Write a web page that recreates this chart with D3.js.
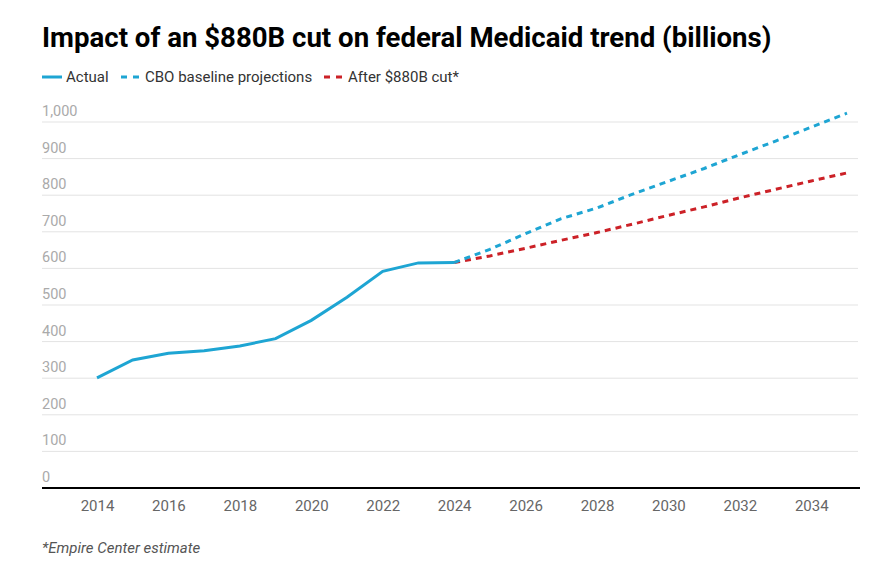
<!DOCTYPE html>
<html>
<head>
<meta charset="utf-8">
<script src="https://cdn.jsdelivr.net/npm/d3@7"></script>
<style>
  body { margin: 0; background: #fff; }
  svg { font-family: Roboto, sans-serif; }
</style>
</head>
<body>
<svg id="chart" width="882" height="562"></svg>
<script>

var actualYears = [2014, 2015, 2016, 2017, 2018, 2019, 2020, 2021, 2022, 2023, 2024];
var actualValues = [301, 350, 368, 375, 388, 408, 458, 521, 592, 615, 616];

var projYears = [2024, 2025, 2026, 2027, 2028, 2029, 2030, 2031, 2032, 2033, 2034, 2035];
var cboValues = [616, 652, 695, 736, 765, 803, 838, 873, 911, 948, 986, 1024];
var cutValues = [616, 634, 655, 677, 698, 721, 745, 768, 793, 816, 839, 861];

var yTicks = [0, 100, 200, 300, 400, 500, 600, 700, 800, 900, 1000];
var xTicks = [2014, 2016, 2018, 2020, 2022, 2024, 2026, 2028, 2030, 2032, 2034];

var series = [
	{ name: "Actual", years: actualYears, values: actualValues, color: "#1ea5d3", dash: null },
	{ name: "CBO baseline projections", years: projYears, values: cboValues, color: "#1ea5d3", dash: "6,5" },
	{ name: "After $880B cut*", years: projYears, values: cutValues, color: "#cc2127", dash: "6,5" }
];

var svg = d3.select("#chart");

var left = 42, right = 858;

var x = d3.scaleLinear().domain([2014, 2035]).range([97, 847]);
var y = d3.scaleLinear().domain([0, 1000]).range([488, 122]);

// Title
svg.append("text")
	.attr("x", left)
	.attr("y", 47)
	.style("font-size", "27.6px")
	.style("font-weight", "bold")
	.attr("fill", "#000")
	.text("Impact of an $880B cut on federal Medicaid trend (billions)");

// Legend
var legendX = [42, 121, 324];
series.forEach(function (s, i) {
	var g = svg.append("g").attr("transform", "translate(" + legendX[i] + ",77)");
	g.append("line")
		.attr("x1", 0).attr("x2", s.dash ? 18 : 20)
		.attr("y1", 0).attr("y2", 0)
		.attr("stroke", s.color)
		.attr("stroke-width", 3)
		.attr("stroke-dasharray", s.dash ? "6,6" : null);
	g.append("text")
		.attr("x", 24)
		.attr("y", 5)
		.style("font-size", "15px")
		.attr("fill", "#333")
		.text(s.name);
});

// Grid
var grid = svg.append("g");
grid.selectAll("line")
	.data(yTicks.filter(function (d) { return d > 0; }))
	.enter().append("line")
	.attr("x1", left).attr("x2", right)
	.attr("y1", function (d) { return y(d); })
	.attr("y2", function (d) { return y(d); })
	.attr("stroke", "#e3e3e3")
	.attr("stroke-width", 1);

// Y labels
svg.append("g").selectAll("text")
	.data(yTicks)
	.enter().append("text")
	.attr("x", left)
	.attr("y", function (d) { return y(d) - 6; })
	.style("font-size", "14.5px")
	.attr("fill", "#aaa")
	.text(function (d) { return d3.format(",")(d); });

// X axis
var xAxis = svg.append("g")
	.attr("transform", "translate(0," + y(0) + ")")
	.call(d3.axisBottom(x).tickValues(xTicks).tickFormat(d3.format("d")).tickSize(0).tickPadding(12));
xAxis.select(".domain").remove();
xAxis.selectAll("text")
	.style("font-family", "Roboto, sans-serif")
	.style("font-size", "15px")
	.attr("fill", "#666");

svg.append("line")
	.attr("x1", left).attr("x2", right + 2)
	.attr("y1", y(0)).attr("y2", y(0))
	.attr("stroke", "#000")
	.attr("stroke-width", 2);

// Lines
var line = d3.line()
	.x(function (d) { return x(d[0]); })
	.y(function (d) { return y(d[1]); });

series.slice().reverse().forEach(function (s) {
	svg.append("path")
		.datum(d3.zip(s.years, s.values))
		.attr("d", line)
		.attr("fill", "none")
		.attr("stroke", s.color)
		.attr("stroke-width", 3)
		.attr("stroke-dasharray", s.dash);
});

// Footer
svg.append("text")
	.attr("x", left)
	.attr("y", 553)
	.style("font-size", "15px")
	.style("font-style", "italic")
	.attr("fill", "#555")
	.text("*Empire Center estimate");

</script>
</body>
</html>
